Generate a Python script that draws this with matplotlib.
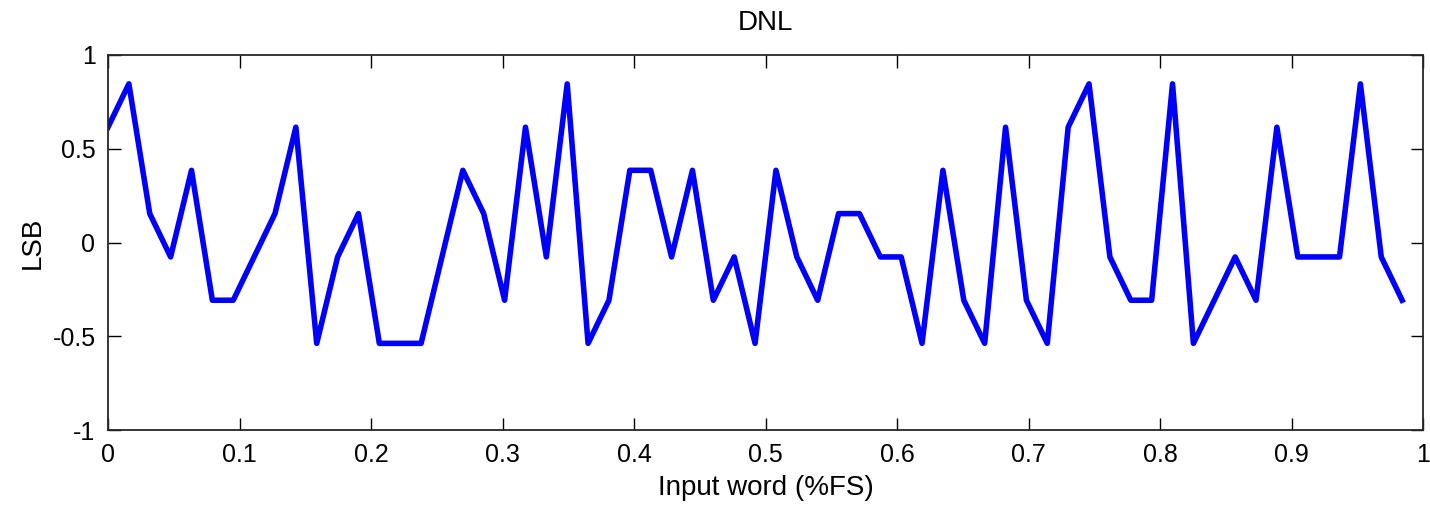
import numpy as np
import matplotlib
matplotlib.use("Agg")
import matplotlib.pyplot as plt

plt.rcParams['font.family'] = ['Liberation Sans', 'DejaVu Sans']

# DNL per code, 63 codes over 0..62/63 of full scale
n_codes = 63
dnl = [0.615, 0.846, 0.154, -0.077, 0.385, -0.308, -0.308, -0.077, 0.154, 0.615,
       -0.538, -0.077, 0.154, -0.538, -0.538, -0.538, -0.077, 0.385, 0.154, -0.308,
       0.615, -0.077, 0.846, -0.538, -0.308, 0.385, 0.385, -0.077, 0.385, -0.308,
       -0.077, -0.538, 0.385, -0.077, -0.308, 0.154, 0.154, -0.077, -0.077, -0.538,
       0.385, -0.308, -0.538, 0.615, -0.308, -0.538, 0.615, 0.846, -0.077, -0.308,
       -0.308, 0.846, -0.538, -0.308, -0.077, -0.308, 0.615, -0.077, -0.077, -0.077,
       0.846, -0.077, -0.308]
x = np.arange(n_codes) / n_codes

xticks = [0, 0.1, 0.2, 0.3, 0.4, 0.5, 0.6, 0.7, 0.8, 0.9, 1]
xticklabels = ['0', '0.1', '0.2', '0.3', '0.4', '0.5', '0.6', '0.7', '0.8', '0.9', '1']
yticks = [-1, -0.5, 0, 0.5, 1]
yticklabels = ['-1', '-0.5', '0', '0.5', '1']

fig = plt.figure(figsize=(14.30, 5.07), dpi=100)
ax = fig.add_axes([108/1430, 1 - 430/507, (1423-108)/1430, (430-55)/507])

ax.plot(x, dnl, color=(0, 0, 1), linewidth=4)

ax.set_xlim(0, 1)
ax.set_ylim(-1, 1)
ax.set_xticks(xticks)
ax.set_xticklabels(xticklabels)
ax.set_yticks(yticks)
ax.set_yticklabels(yticklabels)
ax.tick_params(direction='in', length=9, width=1, top=True, right=True,
               labelsize=18, pad=9, colors='black')
for s in ax.spines.values():
    s.set_linewidth(1.3)
    s.set_color('#262626')

ax.set_title("DNL", fontsize=20, pad=18)
ax.set_xlabel("Input word (%FS)", fontsize=20, labelpad=6)
ax.set_ylabel("LSB", fontsize=20, labelpad=5)

fig.savefig("out.png", dpi=100)
